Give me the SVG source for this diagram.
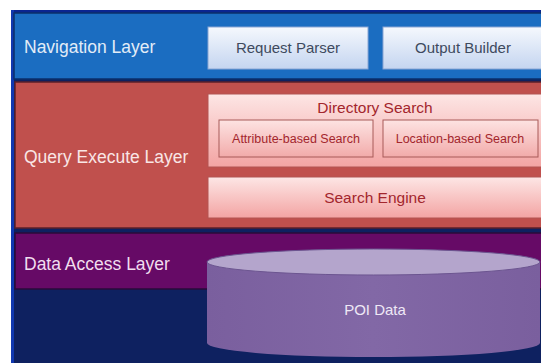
<svg xmlns="http://www.w3.org/2000/svg" width="541" height="363" viewBox="0 0 541 363">
  <defs>
    <linearGradient id="navBox" x1="0" y1="0" x2="0" y2="1">
      <stop offset="0" stop-color="#f5f8fd"/>
      <stop offset="1" stop-color="#c4d5f0"/>
    </linearGradient>
    <linearGradient id="redBox" x1="0" y1="0" x2="0" y2="1">
      <stop offset="0" stop-color="#fde6e5"/>
      <stop offset="1" stop-color="#f3a4a3"/>
    </linearGradient>
    <linearGradient id="redInner" x1="0" y1="0" x2="0" y2="1">
      <stop offset="0" stop-color="#fde3e2"/>
      <stop offset="1" stop-color="#f2abaa"/>
    </linearGradient>
    <linearGradient id="cylBody" x1="0" y1="0" x2="1" y2="0">
      <stop offset="0" stop-color="#7a5f9e"/>
      <stop offset="0.5" stop-color="#8268a6"/>
      <stop offset="1" stop-color="#7a5f9e"/>
    </linearGradient>
  </defs>
  <style>
    .lbl { font-family: "Liberation Sans", Arial, sans-serif; font-size: 17.5px; }
    .nav-t { font-family: "Liberation Sans", Arial, sans-serif; font-size: 15px; fill: #3e4a5e; text-anchor: middle; }
    .red-t { font-family: "Liberation Sans", Arial, sans-serif; fill: #a3262d; text-anchor: middle; }
    .navbox { fill: url(#navBox); stroke: #8aa6d4; stroke-width: 1; }
    .redbox { fill: url(#redBox); stroke: #b25552; stroke-width: 1; }
    .inner { fill: url(#redInner); stroke: #a85a58; stroke-width: 1; }
  </style>

  <!-- page background and frame -->
  <rect x="0" y="0" width="541" height="363" fill="#ffffff"/>
  <rect x="11" y="10" width="540" height="360" fill="#0e2160"/>
  <rect x="11" y="10" width="540" height="3" fill="#0a2590"/>
  <rect x="11" y="10" width="3" height="360" fill="#1038b0"/>

  <!-- Navigation Layer -->
  <g id="navigation-layer">
    <rect x="14" y="13" width="540" height="66" fill="#1b6dc1" stroke="#0b2f6a" stroke-width="1.5"/>
    <text class="lbl" x="24" y="53" fill="#e2ecf7">Navigation Layer</text>
  </g>
  <g id="request-parser">
    <rect class="navbox" x="208" y="27" width="160" height="42"/>
    <text class="nav-t" x="288" y="53">Request Parser</text>
  </g>
  <g id="output-builder">
    <rect class="navbox" x="383" y="27" width="162" height="42"/>
    <text class="nav-t" x="463" y="53">Output Builder</text>
  </g>

  <!-- Query Execute Layer -->
  <g id="query-execute-layer">
    <rect x="15" y="82" width="540" height="146" fill="#c0504d" stroke="#5a1f2a" stroke-width="1.5"/>
    <text class="lbl" x="24" y="163" fill="#f9e6e6">Query Execute Layer</text>
  </g>
  <g id="directory-search">
    <rect class="redbox" x="208" y="94" width="336" height="73"/>
    <text class="red-t" x="375" y="113" font-size="15.5">Directory Search</text>
  </g>
  <g id="attribute-search">
    <rect class="inner" x="219" y="120" width="154" height="37"/>
    <text class="red-t" x="296" y="143" font-size="12.5">Attribute-based Search</text>
  </g>
  <g id="location-search">
    <rect class="inner" x="383" y="120" width="155" height="37"/>
    <text class="red-t" x="460" y="143" font-size="12.5">Location-based Search</text>
  </g>
  <g id="search-engine">
    <rect class="redbox" x="208" y="177" width="336" height="41"/>
    <text class="red-t" x="375" y="203" font-size="15.5">Search Engine</text>
  </g>

  <!-- Data Access Layer -->
  <g id="data-access-layer">
    <rect x="15" y="233" width="540" height="56" fill="#660a66" stroke="#2a0b3a" stroke-width="1.5"/>
    <text class="lbl" x="24" y="270" fill="#f1deef">Data Access Layer</text>
  </g>
  <g id="poi-data">
    <path d="M207 262 L207 343 A166.5 14 0 0 0 540 343 L540 262 Z" fill="url(#cylBody)"/>
    <ellipse cx="373.5" cy="262" rx="166.5" ry="13" fill="#b4a5cc" stroke="#6c5590" stroke-width="1"/>
    <text x="375" y="315" font-family="'Liberation Sans', Arial, sans-serif" font-size="15" fill="#efe8f6" text-anchor="middle">POI Data</text>
  </g>

  <!-- connectors: none between the stacked layers -->
  <g id="connectors"/>
</svg>
